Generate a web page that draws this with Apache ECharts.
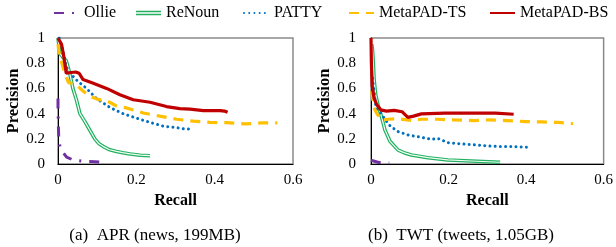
<!DOCTYPE html>
<html>
<head>
<meta charset="utf-8">
<script src="https://cdn.jsdelivr.net/npm/echarts@6/dist/echarts.min.js"></script>
<style>
html,body{margin:0;padding:0;background:#fff;}
#c{width:616px;height:247px;}
</style>
</head>
<body>
<div id="c"></div>
<script>
// ---- Data (recall, precision) ----
const seriesNames = ['Ollie', 'ReNoun', 'PATTY', 'MetaPAD-TS', 'MetaPAD-BS'];
const xTickLabels = ['0', '0.2', '0.4', '0.6'];
const yTickLabels = ['0', '0.2', '0.4', '0.6', '0.8', '1'];
const captions = ['(a)  APR (news, 199MB)', '(b)  TWT (tweets, 1.05GB)'];

// Panel (a) APR
const aprOllie = [[0,0.52],[0,0.45],[0.001,0.3],[0.002,0.2],[0.005,0.14],[0.013,0.09],[0.022,0.055],[0.04,0.03],[0.07,0.02],[0.094,0.018],[0.115,0.013]];
const aprReNoun = [[0,1],[0.002,0.95],[0.004,0.88],[0.012,0.85],[0.021,0.82],[0.03,0.72],[0.038,0.6],[0.047,0.51],[0.056,0.4],[0.068,0.34],[0.081,0.27],[0.094,0.2],[0.105,0.16],[0.115,0.14],[0.13,0.115],[0.149,0.1],[0.165,0.09],[0.184,0.08],[0.21,0.07],[0.235,0.066]];
const aprPatty = [[0.003,1],[0.008,0.95],[0.013,0.89],[0.021,0.77],[0.034,0.71],[0.051,0.655],[0.073,0.6],[0.098,0.52],[0.132,0.45],[0.166,0.4],[0.2,0.364],[0.235,0.33],[0.269,0.3],[0.3,0.29],[0.32,0.28],[0.345,0.276]];
const aprTS = [[0,0.95],[0.004,0.85],[0.01,0.8],[0.017,0.72],[0.027,0.645],[0.045,0.635],[0.06,0.59],[0.08,0.54],[0.1,0.515],[0.132,0.49],[0.15,0.46],[0.175,0.445],[0.218,0.405],[0.26,0.38],[0.303,0.355],[0.346,0.34],[0.388,0.33],[0.431,0.328],[0.478,0.318],[0.52,0.326],[0.56,0.326]];
const aprBS = [[0,1],[0.003,1],[0.009,0.95],[0.015,0.85],[0.021,0.72],[0.034,0.726],[0.045,0.73],[0.054,0.72],[0.064,0.67],[0.09,0.64],[0.124,0.6],[0.158,0.55],[0.192,0.51],[0.235,0.49],[0.277,0.456],[0.311,0.44],[0.337,0.435],[0.371,0.424],[0.414,0.424],[0.425,0.42],[0.433,0.41]];

// Panel (b) TWT
const twtOllie = [[0,0.03],[0.005,0.02],[0.02,0.012],[0.047,0.008]];
const twtReNoun = [[0.002,0.95],[0.004,0.9],[0.006,0.8],[0.008,0.67],[0.012,0.55],[0.019,0.456],[0.027,0.376],[0.036,0.27],[0.049,0.18],[0.07,0.11],[0.085,0.09],[0.104,0.072],[0.147,0.05],[0.198,0.032],[0.258,0.024],[0.333,0.014]];
const twtPatty = [[0.004,0.68],[0.009,0.55],[0.013,0.45],[0.023,0.416],[0.037,0.35],[0.05,0.3],[0.07,0.257],[0.096,0.23],[0.13,0.212],[0.155,0.196],[0.172,0.204],[0.198,0.17],[0.232,0.16],[0.266,0.152],[0.305,0.143],[0.33,0.138],[0.363,0.138],[0.406,0.133]];
const twtTS = [[0.002,0.58],[0.005,0.5],[0.01,0.43],[0.015,0.4],[0.027,0.35],[0.045,0.355],[0.07,0.36],[0.104,0.345],[0.13,0.355],[0.172,0.355],[0.215,0.35],[0.266,0.345],[0.304,0.35],[0.351,0.345],[0.398,0.337],[0.44,0.334],[0.483,0.33],[0.521,0.32]];
const twtBS = [[0,1],[0.001,0.8],[0.003,0.62],[0.008,0.52],[0.015,0.47],[0.025,0.43],[0.04,0.42],[0.06,0.425],[0.08,0.415],[0.095,0.37],[0.11,0.38],[0.13,0.398],[0.19,0.403],[0.25,0.403],[0.305,0.403],[0.321,0.403],[0.368,0.395]];

const panels = [
  {ollie: aprOllie, renoun: aprReNoun, patty: aprPatty, ts: aprTS, bs: aprBS},
  {ollie: twtOllie, renoun: twtReNoun, patty: twtPatty, ts: twtTS, bs: twtBS}
];

// ---- Styling ----
const FONT = 'Liberation Serif';
const colors = {ollie:'#7030a0', renoun:'#22b060', patty:'#0070c0', ts:'#ffc000', bs:'#c00000'};
const gridLefts = [58, 371];
const nameGaps = [33, 36];
const labelMargins = [13, 15];

const grids = gridLefts.map(l => ({left: l, top: 38, width: 235, height: 126, show: true, borderColor: '#8a8a8a', borderWidth: 1.5, backgroundColor: 'transparent'}));

const xAxes = gridLefts.map((l, i) => ({
  type: 'value', gridIndex: i, min: 0, max: 0.6, interval: 0.2,
  name: 'Recall', nameLocation: 'middle', nameGap: 29,
  nameTextStyle: {fontFamily: FONT, fontWeight: 'bold', fontSize: 16, color: '#000'},
  axisLine: {show: true, lineStyle: {color: '#000', width: 1}},
  axisTick: {show: false}, splitLine: {show: false},
  axisLabel: {fontFamily: FONT, fontSize: 15, color: '#000', margin: 9,
    formatter: v => xTickLabels[Math.round(v / 0.2)]}
}));
const yAxes = gridLefts.map((l, i) => ({
  type: 'value', gridIndex: i, min: 0, max: 1, interval: 0.2,
  name: 'Precision', nameLocation: 'middle', nameGap: nameGaps[i],
  nameTextStyle: {fontFamily: FONT, fontWeight: 'bold', fontSize: 16.5, color: '#000'},
  axisLine: {show: true, lineStyle: {color: '#000', width: 1}},
  axisTick: {show: false}, splitLine: {show: false},
  axisLabel: {fontFamily: FONT, fontSize: 15, color: '#000', margin: labelMargins[i],
    formatter: v => yTickLabels[Math.round(v / 0.2)]}
}));

const series = [];
panels.forEach((p, i) => {
  const base = {type: 'line', xAxisIndex: i, yAxisIndex: i, symbol: 'none', showSymbol: false, animation: false, silent: true};
  series.push(Object.assign({}, base, {name: 'Ollie', data: p.ollie, color: colors.ollie,
    lineStyle: {color: colors.ollie, width: 3, type: [10, 8, 2, 8]}}));
  series.push(Object.assign({}, base, {name: 'ReNoun', data: p.renoun, color: colors.renoun,
    lineStyle: {color: colors.renoun, width: 3.6}}));
  series.push(Object.assign({}, base, {name: 'ReNoun-inner', data: p.renoun, color: '#fff',
    lineStyle: {color: '#f2fff6', width: 1.2}}));
  series.push(Object.assign({}, base, {name: 'PATTY', data: p.patty, color: colors.patty,
    lineStyle: {color: colors.patty, width: 3, type: [0.01, 5.2], cap: 'round'}}));
  series.push(Object.assign({}, base, {name: 'MetaPAD-TS', data: p.ts, color: colors.ts,
    lineStyle: {color: colors.ts, width: 3.2, type: [10, 7]}}));
  series.push(Object.assign({}, base, {name: 'MetaPAD-BS', data: p.bs, color: colors.bs,
    lineStyle: {color: colors.bs, width: 3.2}}));
});

const legendLefts = [48, 131, 238, 343, 484];
const legends = seriesNames.map((n, i) => {
  const lg = {data: [n], left: legendLefts[i], top: 0, itemWidth: 25, itemHeight: 14,
    selectedMode: false, itemStyle: {color: 'rgba(0,0,0,0)', borderWidth: 0, borderColor: 'rgba(0,0,0,0)'},
    textStyle: {fontFamily: FONT, fontSize: 16, color: '#000'}};
  if (n === 'ReNoun') {
    lg.data = [{name: n, icon: 'path://M0,0H25V1.3H0Z M0,3H25V4.3H0Z'}];
    lg.itemStyle = {color: colors.renoun, borderWidth: 0};
  }
  return lg;
});

const chart = echarts.init(document.getElementById('c'), null, {renderer: 'canvas'});
chart.setOption({
  animation: false,
  backgroundColor: '#fff',
  grid: grids, xAxis: xAxes, yAxis: yAxes, series: series, legend: legends,
  graphic: captions.map((t, i) => ({type: 'text', x: [155, 461][i], y: 236,
    style: {text: t, textAlign: 'center', textVerticalAlign: 'middle', fontFamily: FONT, fontSize: 17, fill: '#000'}}))
});
</script>
</body>
</html>
